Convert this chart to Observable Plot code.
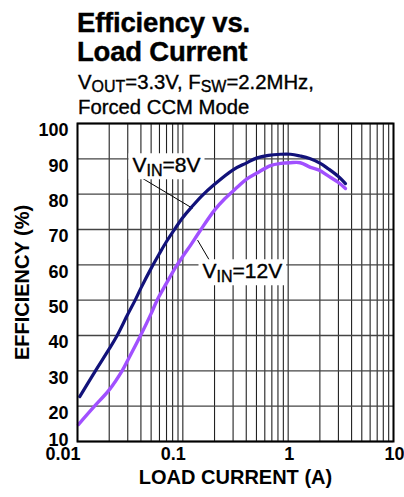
<!DOCTYPE html>
<html>
<head>
<meta charset="utf-8">
<script src="https://cdn.jsdelivr.net/npm/d3@7"></script>
<script src="https://cdn.jsdelivr.net/npm/@observablehq/plot@0.6"></script>
<style>
html,body{margin:0;padding:0;background:#fff;}
#wrap{position:relative;width:404px;height:497px;overflow:hidden;font-family:"Liberation Sans",Arial,Helvetica,sans-serif;color:#000;}
.title{position:absolute;left:77px;top:8px;font-size:27.5px;font-weight:bold;line-height:29px;letter-spacing:-0.2px;white-space:nowrap;-webkit-text-stroke:0.4px #000;}
.sub{position:absolute;left:78px;top:69.6px;font-size:20.3px;line-height:25px;white-space:nowrap;-webkit-text-stroke:0.35px #000;}
.sub .s{font-size:16px;vertical-align:-3px;line-height:0;}
#chart{position:absolute;left:0;top:118px;}
</style>
</head>
<body>
<div id="wrap">
  <div class="title">Efficiency vs.<br>Load Current</div>
  <div class="sub">V<span class="s">OUT</span>=3.3V, F<span class="s">SW</span>=2.2MHz,<br>Forced CCM Mode</div>
  <div id="chart"></div>
</div>
<script>
// ---- data ----
const current8 = [0.0105, 0.0148, 0.02, 0.0238, 0.03, 0.035, 0.04, 0.05, 0.06, 0.07, 0.085, 0.1, 0.12, 0.15, 0.2, 0.3, 0.4, 0.5, 0.65, 0.85, 1.05, 1.3, 1.6, 2.0, 2.4, 3.0, 3.5];
const eff8     = [22.7, 30, 36.2, 40, 46, 49.8, 53.4, 59.0, 63.2, 66.6, 70.4, 73.4, 76.2, 79.4, 82.8, 86.9, 88.8, 90.2, 91.0, 91.3, 91.3, 90.8, 90.1, 88.8, 87.2, 85.0, 83.0];
const current12 = [0.0102, 0.0143, 0.02, 0.0265, 0.03, 0.04, 0.05, 0.057, 0.07, 0.085, 0.1, 0.12, 0.147, 0.2, 0.25, 0.33, 0.4, 0.5, 0.68, 0.85, 1.05, 1.3, 1.63, 2.0, 2.36, 3.0, 3.5];
const eff12     = [14.8, 19.8, 24.6, 30, 33, 40.2, 46.2, 50, 54.8, 59.2, 62.4, 65.8, 69.8, 75.5, 78.7, 82.0, 84.2, 85.9, 88.1, 88.7, 88.9, 88.9, 87.6, 86.7, 85.3, 83.3, 81.6];
const seriesNames = ["VIN=8V", "VIN=12V"];

const xGrid = [0.01,0.02,0.03,0.04,0.05,0.06,0.07,0.08,0.09,
               0.1,0.2,0.3,0.4,0.5,0.6,0.7,0.8,0.9,
               1,2,3,4,5,6,7,8,9,10];
const yTicks = [10,20,30,40,50,60,70,80,90,100];
const xTickValues = [0.01, 0.1, 1, 10];
const xTickLabels = ["0.01", "0.1", "1", "10"];
const xTitle = "LOAD CURRENT (A)";
const yTitle = "EFFICIENCY (%)";

// annotation labels (data coordinates) and leader lines
const annots = [
  {x: 0.0333, y: 86.2, base: "V", sub: "IN", rest: "=8V"},
  {x: 0.1537, y: 56.2, base: "V", sub: "IN", rest: "=12V"}
];
const leaders = [
  {x1: 0.0397, y1: 84.8, x2: 0.1236, y2: 76.0},
  {x1: 0.138,  y1: 67.0, x2: 0.1836, y2: 60.7}
];

// ---- build ----
const FONT = '"Liberation Sans", Arial, Helvetica, sans-serif';
const BLUE = "#12127a", PURPLE = "#a150ff";
const rows8 = current8.map((c, i) => ({current: c, eff: eff8[i], s: seriesNames[0]}));
const rows12 = current12.map((c, i) => ({current: c, eff: eff12[i], s: seriesNames[1]}));
const fullLabels = annots.map(d => d.base + d.sub + d.rest);

const chart = Plot.plot({
  width: 404, height: 379,
  marginTop: 5, marginBottom: 56, marginLeft: 77, marginRight: 11,
  x: {type: "log", domain: [0.01, 10], axis: null},
  y: {domain: [10, 100], axis: null},
  style: {fontFamily: FONT, background: "white", overflow: "visible", color: "black"},
  marks: [
    Plot.ruleX(xGrid, {stroke: "#222", strokeWidth: 1.1}),
    Plot.ruleY(yTicks, {stroke: "#444", strokeWidth: 1.3}),
    Plot.link(leaders, {x1: "x1", y1: "y1", x2: "x2", y2: "y2", stroke: "black", strokeWidth: 1}),
    Plot.line(rows8, {x: "current", y: "eff", stroke: BLUE, strokeWidth: 3.2, curve: "catmull-rom"}),
    Plot.line(rows12, {x: "current", y: "eff", stroke: PURPLE, strokeWidth: 3.4, curve: "catmull-rom"}),
    Plot.text(annots, {x: "x", y: "y", text: (d, i) => fullLabels[i], textAnchor: "start", lineAnchor: "bottom", fontSize: 21, fill: "black", stroke: "black", strokeWidth: 0.4}),
    Plot.frame({stroke: "black", strokeWidth: 2}),
    Plot.text(yTicks.filter(d => d > 10), {frameAnchor: "left", y: d => d, text: d => String(d), textAnchor: "end", dx: -9, dy: 7, fontSize: 18, fontWeight: "bold"}),
    Plot.text(yTicks.filter(d => d === 10), {frameAnchor: "left", y: d => d, text: d => String(d), textAnchor: "end", dx: -9, dy: -1, fontSize: 18, fontWeight: "bold"}),
    Plot.text(xTickValues.slice(0, 2), {x: d => d, frameAnchor: "bottom", text: (d, i) => xTickLabels[i], textAnchor: "end", dx: 3, dy: 18, fontSize: 18, fontWeight: "bold"}),
    Plot.text(xTickValues.slice(2), {x: d => d, frameAnchor: "bottom", text: (d, i) => xTickLabels[i + 2], textAnchor: "middle", dx: 1, dy: 18, fontSize: 18, fontWeight: "bold"}),
    Plot.text([xTitle], {frameAnchor: "bottom", text: d => d, dy: 42, fontSize: 20, fontWeight: "bold"}),
    Plot.text([yTitle], {x: () => 0.01, y: () => 55, text: d => d, rotate: -90, dx: -55, fontSize: 20, fontWeight: "bold"})
  ]
});

document.getElementById("chart").appendChild(chart);

// rich text (subscripts) + white background boxes for the annotation labels
d3.select(chart).selectAll("text").each(function() {
  const k = fullLabels.indexOf(this.textContent);
  if (k < 0) return;
  const d = annots[k];
  const t = d3.select(this);
  t.text(null);
  t.append("tspan").text(d.base);
  t.append("tspan").attr("font-size", 16).attr("dy", 4).text(d.sub);
  t.append("tspan").attr("dy", -4).text(d.rest);
  const bb = this.getBBox();
  const r = document.createElementNS("http://www.w3.org/2000/svg", "rect");
  r.setAttribute("x", bb.x - 4);
  r.setAttribute("y", bb.y);
  r.setAttribute("width", bb.width + 8);
  r.setAttribute("height", bb.height);
  r.setAttribute("fill", "white");
  r.setAttribute("stroke", "none");
  if (this.getAttribute("transform")) r.setAttribute("transform", this.getAttribute("transform"));
  this.parentNode.insertBefore(r, this);
});
</script>
</body>
</html>
